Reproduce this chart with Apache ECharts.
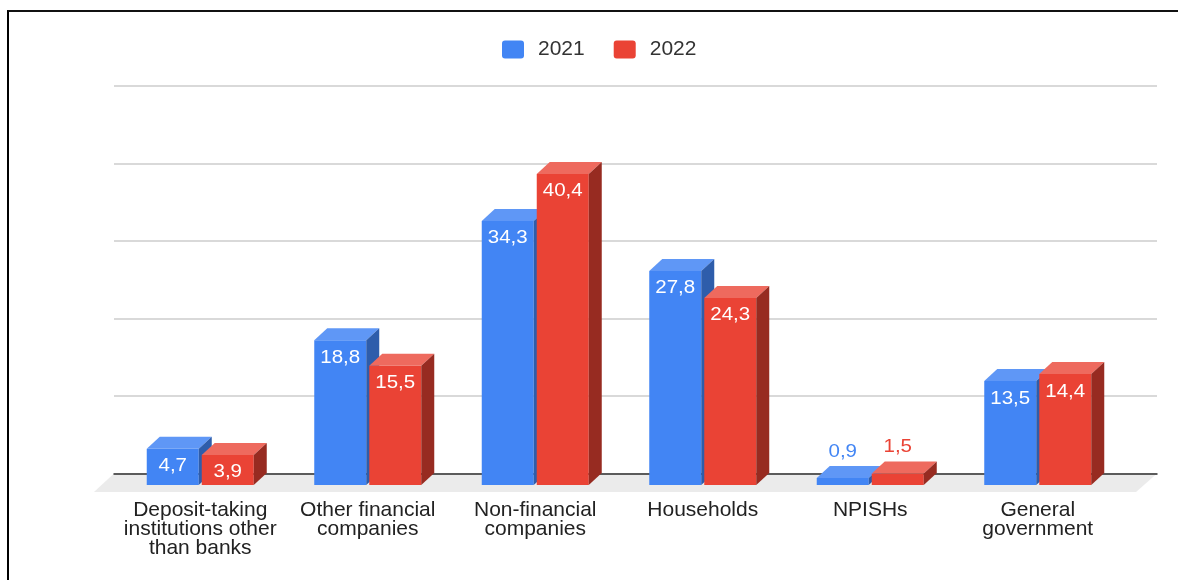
<!DOCTYPE html>
<html><head><meta charset="utf-8">
<style>
html,body{margin:0;padding:0;background:#fff;overflow:hidden}
#c{position:absolute;left:0;top:0;width:1178px;height:580px}
#f{position:absolute;left:7px;top:10px;width:1171px;height:570px;border-top:2px solid #111;border-left:2px solid #000;box-sizing:border-box;pointer-events:none}
</style>
<script src="https://cdn.jsdelivr.net/npm/echarts@6/dist/echarts.min.js"></script>
</head><body><div id="c"></div><div id="f"></div>
<script>
const categories = ['Deposit-taking\ninstitutions other\nthan banks','Other financial\ncompanies','Non-financial\ncompanies','Households','NPISHs','General\ngovernment'];
const values2021 = [4.7,18.8,34.3,27.8,0.9,13.5];
const values2022 = [3.9,15.5,40.4,24.3,1.5,14.4];
const yMax = 50, yInterval = 10;
const FONT = '"Liberation Sans",Arial,sans-serif';
const DX = 13, DY = 12, BW = 52, GAP = 3;
const pal = {
  2021:{front:'#4285f4',top:'#5f97f6',side:'#2e5dab'},
  2022:{front:'#ea4335',top:'#ee6a5e',side:'#972b21'}
};
function bar3d(idx, year){
  const p = pal[year];
  return function(params, api){
    const c = api.coord([api.value(0), api.value(1)]);
    const b = api.coord([api.value(0), 0]);
    const left = idx===0 ? c[0]-BW-GAP/2 : c[0]+GAP/2;
    const right = left+BW, top=c[1], base=b[1];
    const val = api.value(1);
    const inside = (base-top) > 30;
    const poly=(pts,fill)=>({type:'polygon',shape:{points:pts},style:{fill:fill}});
    return {type:'group',children:[
      poly([[left,base],[right,base],[right,top],[left,top]],p.front),
      poly([[left,top],[right,top],[right+DX,top-DY],[left+DX,top-DY]],p.top),
      poly([[right,base],[right+DX,base-DY],[right+DX,top-DY],[right,top]],p.side),
      {type:'text',z2:10,x:(left+right)/2,y:inside ? top+17.5 : top-DY-14,scaleX:1.14,style:{
        x:0,y:0,
        text:String(val).replace('.',','),
        fill: inside ? '#fff' : p.front,
        font:'18px '+FONT, align:'center', verticalAlign:'middle'
      }}
    ]};
  };
}
const cats = categories.map((_,i)=>i);
const chart = echarts.init(document.getElementById('c'),null,{renderer:'canvas'});
chart.setOption({
  animation:false,
  backgroundColor:'#fff',
  legend:{
    top:34,left:497,itemWidth:22,itemHeight:18,itemGap:29,
    icon:'path://M3 0H19Q22 0 22 3V15Q22 18 19 18H3Q0 18 0 15V3Q0 0 3 0Z',
    data:[{name:'2021',itemStyle:{color:pal[2021].front}},{name:'2022',itemStyle:{color:pal[2022].front}}],
    textStyle:{fontFamily:FONT,fontSize:21,color:'#333',padding:[0,0,0,9]}
  },
  graphic:[{type:'polygon',z:-1,silent:true,shape:{points:[[114,473.5],[1157,473.5],[1136,492],[94,492]]},style:{fill:'#ebebeb'}}],
  grid:[
    {left:114,right:21,top:86,height:387.5},
    {left:116.5,width:1005,top:100,height:385}
  ],
  xAxis:[
    {gridIndex:0,type:'category',data:cats,axisTick:{show:false},axisLabel:{show:false},
     axisLine:{show:true,lineStyle:{color:'#333',width:1.5}}},
    {gridIndex:1,type:'category',data:categories,axisTick:{show:false},axisLine:{show:false},
     axisLabel:{interval:0,margin:16,fontFamily:FONT,fontSize:21,lineHeight:18.7,color:'#222',verticalAlign:'top'}}
  ],
  yAxis:[
    {gridIndex:0,type:'value',min:0,max:yMax,interval:yInterval,axisLabel:{show:false},axisLine:{show:false},axisTick:{show:false},
     splitLine:{lineStyle:{color:'#cccccc',width:1.5}}},
    {gridIndex:1,type:'value',min:0,max:yMax,interval:yInterval,axisLabel:{show:false},axisLine:{show:false},axisTick:{show:false},splitLine:{show:false}}
  ],
  series:[
    {name:'2021',type:'custom',xAxisIndex:1,yAxisIndex:1,z:3,renderItem:bar3d(0,2021),
     encode:{x:0,y:1},data:values2021.map((v,i)=>[i,v]),itemStyle:{color:pal[2021].front}},
    {name:'2022',type:'custom',xAxisIndex:1,yAxisIndex:1,z:4,renderItem:bar3d(1,2022),
     encode:{x:0,y:1},data:values2022.map((v,i)=>[i,v]),itemStyle:{color:pal[2022].front}}
  ]
});
</script></body></html>
